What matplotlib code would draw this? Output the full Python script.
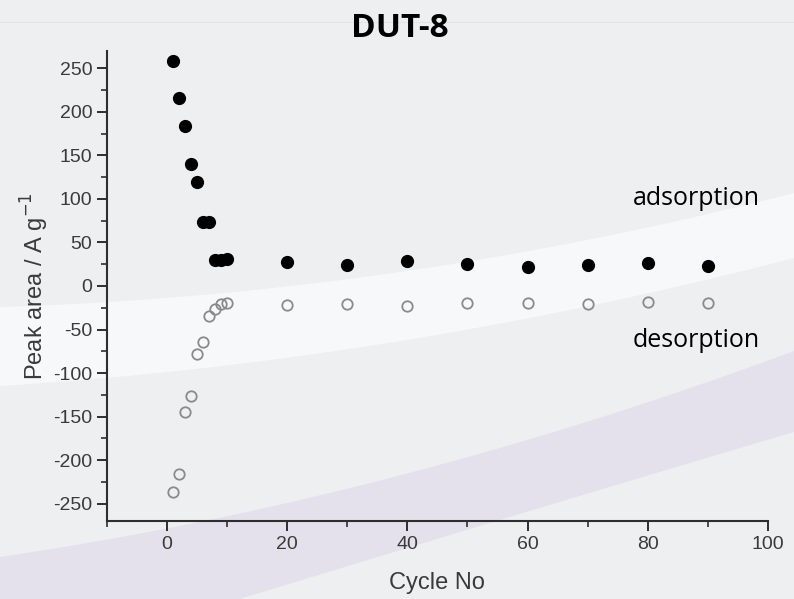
import matplotlib
matplotlib.use("Agg")
import matplotlib.pyplot as plt
import numpy as np

plt.rcParams["axes.unicode_minus"] = False

# data
cycles = [1, 2, 3, 4, 5, 6, 7, 8, 9, 10, 20, 30, 40, 50, 60, 70, 80, 90]
adsorption = [258, 216, 184, 140, 120, 74, 74, 30, 30, 31, 27, 24, 29, 25, 22, 24, 26, 23]
desorption = [-237, -216, -145, -126, -78, -64, -35, -27, -21, -19, -22, -21, -23, -19, -19, -21, -18, -19]

x_ticks = [0, 20, 40, 60, 80, 100]
y_ticks = [-250, -200, -150, -100, -50, 0, 50, 100, 150, 200, 250]

W, H = 794, 599
fig = plt.figure(figsize=(W / 100, H / 100), dpi=100)
fig.patch.set_facecolor("#edeff1")

# slide background (pixel coords)
bg = fig.add_axes([0, 0, 1, 1], zorder=-10)
bg.set_xlim(0, W)
bg.set_ylim(H, 0)
bg.axis("off")


def curve(pts, xs):
    px, py = zip(*pts)
    c = np.polyfit(px, py, 2)
    return np.polyval(c, xs)


xs = np.linspace(0, W, 200)
band_top = curve([(0, 307), (300, 285), (794, 193)], xs)
band_bot = curve([(0, 386), (300, 356), (794, 258)], xs)
bg.fill_between(xs, band_top, band_bot, color="#f7f8f9", lw=0)

purp_top = curve([(0, 557), (300, 500), (794, 351)], xs)
purp_bot = np.minimum(curve([(240, 599), (450, 535), (794, 432)], xs), H)
bg.fill_between(xs, purp_top, purp_bot, color="#e4e1ed", lw=0)
bg.axhline(22, color="#e2e4e6", lw=0.8)

ax = fig.add_axes([0.1348, 0.1302, 0.8322, 0.7847])
ax.patch.set_alpha(0)

ax.plot(cycles, adsorption, "o", color="black", markersize=8.5, zorder=3)
ax.plot(cycles, desorption, "o", markerfacecolor="none", markeredgecolor="#8a8a8a",
        markeredgewidth=1.3, markersize=7.5, zorder=3)

ax.set_xticks(x_ticks)
ax.set_yticks(y_ticks)
ax.set_xticks(np.arange(-10, 100, 10), minor=True)
ax.set_yticks(np.arange(-275, 275, 25), minor=True)
ax.set_xlim(-10, 100)
ax.set_ylim(-270, 270)

for s in ["top", "right"]:
    ax.spines[s].set_visible(False)
for s in ["left", "bottom"]:
    ax.spines[s].set_color("#2e2e2e")
    ax.spines[s].set_linewidth(1.5)

ax.tick_params(which="major", length=7, width=1.4, color="#2e2e2e",
               labelsize=14, labelcolor="#3a3a3a")
ax.tick_params(which="minor", length=4, width=1.2, color="#2e2e2e")
for lab in ax.get_xticklabels() + ax.get_yticklabels():
    lab.set_family("Liberation Sans")

ax.set_xlabel("Cycle No", fontsize=17, color="#3a3a3a", family="Liberation Sans", labelpad=14)
ax.set_ylabel("Peak area / A g$^{-1}$", fontsize=17, color="#3a3a3a",
              family="Liberation Sans", labelpad=2)

ax.text(98.7, 100, "adsorption", ha="right", va="center", fontsize=18,
        family="Open Sans", color="black")
ax.text(98.7, -63, "desorption", ha="right", va="center", fontsize=18,
        family="Open Sans", color="black")

fig.text(0.504, 0.953, "DUT-8", ha="center", va="center", fontsize=24,
         fontweight="bold", family="Open Sans", color="black")

fig.savefig("out.png", dpi=100, facecolor=fig.get_facecolor())
